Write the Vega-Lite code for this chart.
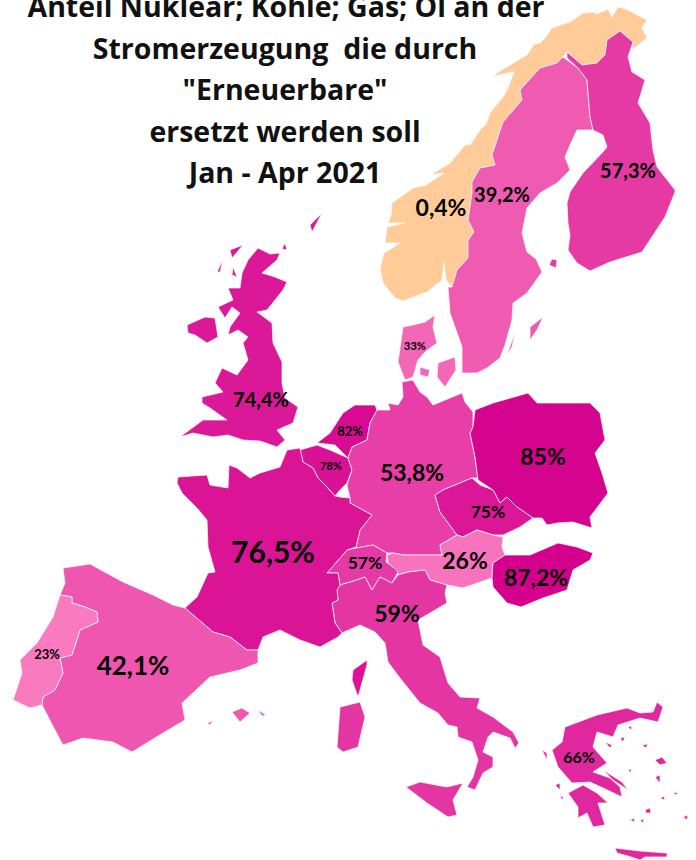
{"$schema":"https://vega.github.io/schema/vega-lite/v6.json","width":696,"height":860,"padding":0,"autosize":{"type":"none"},"background":"white","view":{"stroke":null},"projection":{"type":"identity","scale":1,"translate":[0,0]},"datasets":{"countries":[
{"type":"Feature","properties":{"name":"Norwegen","value":0.4},"geometry":{"type":"Polygon","coordinates":[[[647,20],[632,12],[623,8],[618,7],[612,17],[608,9],[597,14],[593,12],[583,13],[570,22],[563,24],[552,28],[545,38],[540,43],[534,44],[527,55],[520,59],[510,65],[500,71],[492,77],[507,73],[514,72],[507,90],[503,97],[490,113],[486,124],[480,130],[470,145],[465,145],[450,163],[430,175],[444,173],[426,185],[413,188],[402,196],[392,203],[391,215],[388,223],[405,223],[387,227],[385,243],[400,243],[384,253],[380,268],[383,283],[395,298],[403,301],[427,292],[442,280],[444,263],[446,280],[452,287],[457,270],[468,258],[468,240],[474,232],[468,220],[472,193],[472,182],[480,168],[495,165],[492,155],[503,122],[522,100],[520,90],[540,68],[557,63],[563,57],[567,52],[582,65],[597,63],[605,55],[607,40],[620,31],[633,42],[632,50],[647,38],[642,28],[647,20]]]}},
{"type":"Feature","properties":{"name":"Schweden","value":39.2},"geometry":{"type":"MultiPolygon","coordinates":[[[[563,57],[578,68],[587,80],[590,117],[593,130],[577,130],[570,145],[565,157],[570,170],[557,183],[540,193],[527,208],[522,233],[527,252],[536,259],[542,272],[527,293],[513,303],[512,320],[505,345],[500,358],[487,368],[477,373],[462,373],[462,347],[450,313],[448,287],[452,287],[457,270],[468,258],[468,240],[474,232],[468,220],[472,193],[472,182],[480,168],[495,165],[492,155],[503,122],[522,100],[520,90],[540,68],[557,63],[563,57]]],[[[530,340],[530,327],[543,317],[537,330],[530,340]]],[[[507,355],[515,332],[512,347],[507,355]]]]}},
{"type":"Feature","properties":{"name":"Finnland","value":57.3},"geometry":{"type":"MultiPolygon","coordinates":[[[[620,31],[633,42],[628,57],[632,72],[645,80],[638,103],[650,123],[653,150],[657,167],[675,190],[675,192],[665,217],[642,252],[610,262],[590,271],[577,263],[568,250],[570,235],[568,223],[567,203],[570,192],[583,173],[603,152],[607,147],[603,135],[593,130],[590,117],[587,80],[578,68],[567,58],[567,52],[582,65],[597,63],[605,55],[607,40],[620,31]]],[[[552,259],[557,260],[556,268],[549,265],[552,259]]]]}},
{"type":"Feature","properties":{"name":"Dänemark","value":33},"geometry":{"type":"MultiPolygon","coordinates":[[[[435,315],[433,327],[437,343],[425,352],[418,360],[413,377],[405,380],[398,362],[403,327],[413,325],[425,322],[435,315]]],[[[438,363],[455,357],[456,370],[445,387],[437,377],[438,363]]],[[[420,367],[430,370],[428,377],[420,375],[420,367]]]]}},
{"type":"Feature","properties":{"name":"Vereinigtes Königreich","value":74.4},"geometry":{"type":"MultiPolygon","coordinates":[[[[258,248],[270,254],[280,253],[277,260],[262,273],[275,277],[287,282],[283,290],[267,310],[257,312],[272,323],[273,343],[282,362],[282,383],[285,398],[298,407],[293,423],[277,430],[285,440],[277,447],[260,441],[243,440],[228,435],[213,437],[193,433],[180,437],[203,420],[227,420],[210,408],[202,403],[202,397],[223,392],[215,383],[222,368],[237,375],[248,360],[243,343],[248,337],[238,330],[228,335],[230,327],[240,313],[232,307],[225,318],[218,307],[233,300],[228,288],[240,288],[242,273],[248,260],[258,248]]],[[[187,325],[205,317],[215,318],[218,337],[207,343],[195,335],[188,333],[187,325]]],[[[243,245],[232,258],[230,250],[243,245]]],[[[223,260],[217,272],[220,272],[223,260]]],[[[322,213],[312,232],[310,225],[322,213]]],[[[285,243],[287,250],[282,249],[285,243]]],[[[233,267],[237,277],[232,275],[233,267]]]]}},
{"type":"Feature","properties":{"name":"Niederlande","value":82},"geometry":{"type":"Polygon","coordinates":[[[377,410],[375,405],[355,405],[343,413],[330,433],[317,443],[335,445],[348,458],[352,447],[367,440],[370,423],[377,410]]]}},
{"type":"Feature","properties":{"name":"Belgien","value":78},"geometry":{"type":"Polygon","coordinates":[[[300,450],[317,445],[330,450],[348,458],[352,470],[347,483],[340,490],[335,496],[325,485],[318,478],[313,468],[303,462],[300,450]]]}},
{"type":"Feature","properties":{"name":"Deutschland","value":53.8},"geometry":{"type":"Polygon","coordinates":[[[377,410],[390,410],[388,403],[398,405],[403,397],[402,382],[413,380],[420,392],[427,397],[433,405],[450,398],[462,393],[465,402],[473,412],[473,427],[470,433],[475,457],[478,478],[472,478],[443,490],[435,495],[440,512],[457,535],[440,545],[442,555],[423,555],[403,555],[393,553],[387,553],[373,545],[358,548],[356,547],[360,530],[372,515],[350,503],[350,498],[347,485],[352,470],[348,458],[352,447],[367,440],[370,423],[377,410]]]}},
{"type":"Feature","properties":{"name":"Polen","value":85},"geometry":{"type":"Polygon","coordinates":[[[475,410],[493,403],[528,393],[537,403],[590,403],[600,413],[605,440],[595,453],[602,473],[608,493],[590,517],[592,528],[573,522],[557,523],[547,525],[542,518],[533,518],[517,507],[507,497],[500,503],[493,490],[478,480],[475,457],[470,433],[473,427],[475,410]]]}},
{"type":"Feature","properties":{"name":"Tschechien","value":75},"geometry":{"type":"Polygon","coordinates":[[[472,478],[480,485],[493,490],[500,503],[507,497],[517,507],[533,518],[520,527],[503,535],[493,535],[477,530],[463,537],[457,535],[440,512],[435,495],[443,490],[472,478]]]}},
{"type":"Feature","properties":{"name":"Österreich","value":26},"geometry":{"type":"Polygon","coordinates":[[[387,555],[393,553],[403,555],[423,555],[442,555],[440,545],[457,535],[463,537],[477,530],[493,535],[503,537],[502,547],[505,555],[493,563],[492,578],[463,588],[447,585],[430,580],[425,570],[408,572],[398,575],[393,567],[388,563],[387,555]]]}},
{"type":"Feature","properties":{"name":"Ungarn","value":87.2},"geometry":{"type":"Polygon","coordinates":[[[505,555],[530,555],[558,543],[577,547],[593,553],[590,560],[573,570],[567,590],[543,598],[521,607],[507,603],[493,587],[492,578],[493,563],[505,555]]]}},
{"type":"Feature","properties":{"name":"Schweiz","value":57},"geometry":{"type":"Polygon","coordinates":[[[356,548],[373,545],[387,553],[386,562],[393,567],[398,572],[392,583],[380,577],[372,590],[365,577],[357,580],[340,585],[338,573],[327,573],[347,550],[356,548]]]}},
{"type":"Feature","properties":{"name":"Italien","value":59},"geometry":{"type":"MultiPolygon","coordinates":[[[[398,575],[392,583],[380,577],[372,590],[365,577],[357,580],[340,585],[337,590],[338,600],[332,603],[335,623],[342,633],[360,625],[375,632],[385,643],[388,662],[400,678],[420,703],[438,713],[448,725],[457,727],[458,737],[472,742],[478,760],[473,777],[467,787],[475,790],[483,773],[493,767],[493,757],[483,752],[488,737],[493,732],[510,738],[515,748],[519,743],[513,732],[493,717],[477,708],[480,698],[460,697],[448,683],[440,657],[423,645],[418,620],[447,603],[445,593],[447,585],[430,580],[425,570],[408,572],[398,575]]],[[[406,787],[420,782],[447,787],[463,783],[453,800],[457,815],[448,817],[427,803],[406,787]]],[[[340,707],[360,702],[365,717],[358,747],[343,752],[337,747],[340,707]]]]}},
{"type":"Feature","properties":{"name":"Frankreich","value":76.5},"geometry":{"type":"MultiPolygon","coordinates":[[[[178,477],[207,475],[210,485],[228,488],[229,465],[237,468],[250,478],[260,473],[280,467],[287,450],[300,448],[303,462],[313,468],[318,478],[325,485],[335,496],[340,497],[350,498],[350,503],[372,515],[360,530],[356,547],[347,550],[327,573],[338,573],[340,585],[337,590],[338,600],[332,603],[335,623],[342,633],[338,637],[320,647],[300,640],[280,630],[263,637],[258,650],[247,650],[230,637],[213,632],[185,608],[197,597],[208,573],[215,572],[208,547],[207,520],[197,508],[182,493],[177,483],[178,477]]],[[[367,660],[367,665],[358,697],[352,680],[353,670],[367,660]]]]}},
{"type":"Feature","properties":{"name":"Spanien","value":42.1},"geometry":{"type":"MultiPolygon","coordinates":[[[[63,568],[90,564],[123,582],[153,595],[173,605],[185,608],[213,632],[230,637],[247,650],[258,650],[258,663],[240,670],[210,677],[182,703],[185,720],[163,733],[132,752],[113,742],[83,738],[63,745],[55,730],[42,705],[43,697],[55,690],[63,673],[60,658],[72,655],[80,630],[98,622],[97,612],[85,607],[72,603],[72,597],[60,595],[65,583],[63,568]]],[[[232,712],[242,708],[250,713],[240,722],[232,712]]],[[[258,710],[266,715],[262,716],[258,710]]],[[[207,723],[213,721],[210,725],[207,723]]]]}},
{"type":"Feature","properties":{"name":"Portugal","value":23},"geometry":{"type":"Polygon","coordinates":[[[60,595],[72,597],[72,603],[85,607],[97,612],[98,622],[80,630],[72,655],[60,658],[63,673],[55,690],[43,697],[42,705],[30,708],[13,700],[22,673],[20,660],[37,643],[53,617],[60,595]]]}},
{"type":"Feature","properties":{"name":"Griechenland","value":66},"geometry":{"type":"MultiPolygon","coordinates":[[[[657,702],[663,707],[658,722],[640,718],[618,725],[613,737],[597,732],[593,747],[607,763],[593,772],[610,778],[620,787],[622,797],[603,788],[590,782],[572,783],[558,767],[552,750],[562,742],[565,727],[597,715],[627,708],[640,713],[653,712],[657,702]]],[[[568,793],[583,785],[597,793],[608,803],[598,803],[605,825],[593,827],[587,813],[578,818],[578,807],[568,793]]],[[[615,848],[640,851],[667,853],[667,857],[645,857],[640,860],[628,856],[617,853],[615,848]]],[[[603,770],[622,782],[628,790],[613,780],[603,770]]],[[[655,760],[662,757],[667,763],[660,765],[655,760]]],[[[655,777],[660,775],[660,783],[655,777]]],[[[555,785],[560,783],[560,790],[555,785]]],[[[542,750],[547,753],[547,760],[542,750]]],[[[645,810],[650,808],[651,813],[646,813],[645,810]]],[[[605,742],[612,745],[610,748],[605,742]]],[[[620,738],[625,737],[623,742],[620,738]]],[[[628,727],[632,726],[631,730],[628,727]]],[[[642,745],[648,744],[646,748],[642,745]]],[[[630,820],[635,818],[634,822],[630,820]]],[[[640,820],[644,819],[643,823],[640,820]]],[[[660,798],[665,796],[664,800],[660,798]]],[[[673,793],[678,792],[676,795],[673,793]]],[[[683,817],[688,815],[687,820],[683,817]]],[[[560,797],[563,796],[563,800],[560,797]]],[[[628,770],[631,769],[631,773],[628,770]]]]}}
],"labels":[
{"label":"0,4%","lon":441,"lat":209},{"label":"39,2%","lon":502,"lat":196},{"label":"57,3%","lon":628,"lat":172},{"label":"74,4%","lon":261,"lat":401},{"label":"53,8%","lon":412,"lat":474},{"label":"85%","lon":543,"lat":458},{"label":"75%","lon":488,"lat":513},{"label":"26%","lon":465,"lat":562},{"label":"87,2%","lon":536,"lat":579},{"label":"57%","lon":365,"lat":564},{"label":"59%","lon":397,"lat":615},{"label":"76,5%","lon":273,"lat":554},{"label":"42,1%","lon":133,"lat":667},{"label":"23%","lon":47,"lat":655},{"label":"66%","lon":579,"lat":758},{"label":"33%","lon":415,"lat":347},{"label":"82%","lon":350,"lat":432},{"label":"78%","lon":331,"lat":467}
],"titles":[
{"line":"Anteil Nuklear; Kohle; Gas; Öl an der","lon":286,"lat":17},{"line":"Stromerzeugung\u00a0\u00a0die durch","lon":285,"lat":59},{"line":"\"Erneuerbare\"","lon":285,"lat":100},{"line":"ersetzt werden soll","lon":285,"lat":142},{"line":"Jan - Apr 2021","lon":285,"lat":183}
]},
"layer":[
{"data":{"name":"countries"},"mark":{"type":"geoshape","stroke":"#ffffff","strokeWidth":0.7},"encoding":{"color":{"field":"properties.value","type":"quantitative","legend":null,"scale":{"domain":[0.4,23,87.2],"range":["#ffcc99","#f97abf","#d4008d"],"interpolate":"rgb"}}}},
{"data":{"name":"titles"},"mark":{"type":"text","font":"Open Sans","fontWeight":"bold","fontSize":28.5,"baseline":"alphabetic","align":"center","color":"#111111"},"encoding":{"longitude":{"field":"lon","type":"quantitative"},"latitude":{"field":"lat","type":"quantitative"},"text":{"field":"line"}}},
{"data":{"name":"labels"},"transform":[{"filter":{"field":"label","oneOf":["76,5%"]}}],"mark":{"type":"text","font":"Lato","fontWeight":"bold","fontSize":30,"color":"#000000"},"encoding":{"longitude":{"field":"lon","type":"quantitative"},"latitude":{"field":"lat","type":"quantitative"},"text":{"field":"label"}}},
{"data":{"name":"labels"},"transform":[{"filter":{"field":"label","oneOf":["42,1%"]}}],"mark":{"type":"text","font":"Lato","fontWeight":"bold","fontSize":26,"color":"#000000"},"encoding":{"longitude":{"field":"lon","type":"quantitative"},"latitude":{"field":"lat","type":"quantitative"},"text":{"field":"label"}}},
{"data":{"name":"labels"},"transform":[{"filter":{"field":"label","oneOf":["0,4%","53,8%","85%","26%","87,2%","59%"]}}],"mark":{"type":"text","font":"Lato","fontWeight":"bold","fontSize":23,"color":"#000000"},"encoding":{"longitude":{"field":"lon","type":"quantitative"},"latitude":{"field":"lat","type":"quantitative"},"text":{"field":"label"}}},
{"data":{"name":"labels"},"transform":[{"filter":{"field":"label","oneOf":["39,2%","57,3%","74,4%"]}}],"mark":{"type":"text","font":"Lato","fontWeight":"bold","fontSize":20,"color":"#000000"},"encoding":{"longitude":{"field":"lon","type":"quantitative"},"latitude":{"field":"lat","type":"quantitative"},"text":{"field":"label"}}},
{"data":{"name":"labels"},"transform":[{"filter":{"field":"label","oneOf":["75%","57%"]}}],"mark":{"type":"text","font":"Lato","fontWeight":"bold","fontSize":17.5,"color":"#000000"},"encoding":{"longitude":{"field":"lon","type":"quantitative"},"latitude":{"field":"lat","type":"quantitative"},"text":{"field":"label"}}},
{"data":{"name":"labels"},"transform":[{"filter":{"field":"label","oneOf":["66%"]}}],"mark":{"type":"text","font":"Lato","fontWeight":"bold","fontSize":16,"color":"#000000"},"encoding":{"longitude":{"field":"lon","type":"quantitative"},"latitude":{"field":"lat","type":"quantitative"},"text":{"field":"label"}}},
{"data":{"name":"labels"},"transform":[{"filter":{"field":"label","oneOf":["23%","82%"]}}],"mark":{"type":"text","font":"Lato","fontWeight":"bold","fontSize":13,"color":"#000000"},"encoding":{"longitude":{"field":"lon","type":"quantitative"},"latitude":{"field":"lat","type":"quantitative"},"text":{"field":"label"}}},
{"data":{"name":"labels"},"transform":[{"filter":{"field":"label","oneOf":["33%","78%"]}}],"mark":{"type":"text","font":"Lato","fontWeight":"bold","fontSize":11,"color":"#000000"},"encoding":{"longitude":{"field":"lon","type":"quantitative"},"latitude":{"field":"lat","type":"quantitative"},"text":{"field":"label"}}}
]}
